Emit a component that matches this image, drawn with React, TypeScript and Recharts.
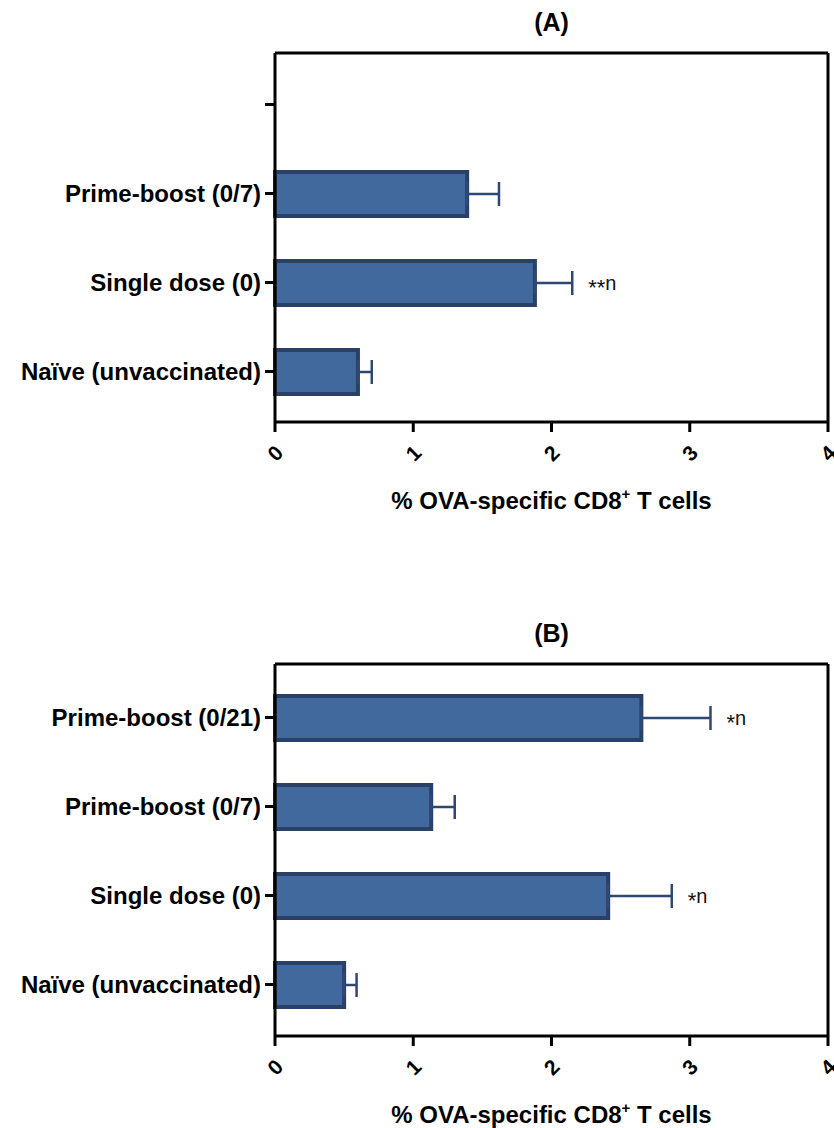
import React from 'react'
import { BarChart, Bar, XAxis, YAxis, ErrorBar, LabelList } from 'recharts'

// panel A
const groupsA = ['', 'Prime-boost (0/7)', 'Single dose (0)', 'Naïve (unvaccinated)']
const meansA = [null, 1.39, 1.88, 0.6]
const semA = [null, 0.23, 0.27, 0.1]
const starsA = ['', '', '**n', '']

// panel B
const groupsB = ['Prime-boost (0/21)', 'Prime-boost (0/7)', 'Single dose (0)', 'Naïve (unvaccinated)']
const meansB = [2.65, 1.13, 2.41, 0.5]
const semB = [0.5, 0.17, 0.46, 0.09]
const starsB = ['*n', '', '*n', '']

const xTicks = [0, 1, 2, 3, 4]

const FONT = '"Liberation Sans", Arial, Helvetica, sans-serif'
const FILL = '#42699E'
const EDGE = '#2A4066'
const WHISKER = '#2E4874'

const buildRows = (groups: string[], means: (number | null)[], sem: (number | null)[]) =>
  groups.map((g, i) => ({
    group: g,
    value: means[i],
    err: sem[i] == null ? null : [0, sem[i]]
  }))

const RotatedTick = ({ x, y, payload }: any) => {
  const cy = y + 19
  return (
    <text
      x={x}
      y={cy}
      textAnchor="middle"
      dominantBaseline="central"
      transform={`rotate(-45 ${x} ${cy})`}
      fontSize={21}
      fontWeight={700}
      fontFamily={FONT}
      fill="#000"
    >
      {payload.value}
    </text>
  )
}

const axisTitle = ({ viewBox }: any) => {
  if (!viewBox) return null
  return (
    <text
      x={viewBox.x + viewBox.width / 2}
      y={viewBox.y + 87}
      textAnchor="middle"
      fontSize={24}
      fontWeight={700}
      fontFamily={FONT}
      fill="#000"
    >
      % OVA-specific CD8
      <tspan fontSize={15} dy={-10}>+</tspan>
      <tspan dy={10}> T cells</tspan>
    </text>
  )
}

const panelTitle = (text: string) => ({ viewBox }: any) => {
  if (!viewBox) return null
  return (
    <text
      x={viewBox.x + viewBox.width / 2}
      y={viewBox.y - 30}
      textAnchor="middle"
      dominantBaseline="central"
      fontSize={25}
      fontWeight={700}
      fontFamily={FONT}
      fill="#000"
    >
      {text}
    </text>
  )
}

const starLabel = (stars: string[], means: (number | null)[], sem: (number | null)[]) => (props: any) => {
  const { x, y, width, height, value } = props
  const i = means.findIndex(m => m != null && m === Number(value))
  if (i < 0) return null
  const s = stars[i]
  if (!s) return null
  const v = means[i] as number
  const e = sem[i] as number
  const end = x + (width * (v + e)) / v
  const ast = s.replace(/[^*]/g, '')
  const rest = s.replace(/\*/g, '')
  return (
    <text
      x={end + 16}
      y={y + height / 2 + 7}
      fontSize={20}
      fontFamily={FONT}
      fill="#111"
    >
      <tspan fontSize={22} dy={5}>{ast}</tspan>
      <tspan dy={-5}>{rest}</tspan>
    </text>
  )
}

interface PanelProps {
  title: string
  groups: string[]
  means: (number | null)[]
  sem: (number | null)[]
  stars: string[]
  height: number
  top: number
  axisHeight: number
  bottom: number
  pad: { top: number; bottom: number }
}

function Panel({ title, groups, means, sem, stars, height, top, axisHeight, bottom, pad }: PanelProps) {
  const rows = buildRows(groups, means, sem)
  return (
    <BarChart
      width={834}
      height={height}
      data={rows}
      layout="vertical"
      margin={{ top, right: 5, bottom, left: 0 }}
      barCategoryGap={0}
    >
      <XAxis
        type="number"
        domain={[0, 4]}
        ticks={xTicks}
        interval={0}
        height={axisHeight}
        axisLine={{ stroke: '#000', strokeWidth: 3 }}
        tickLine={{ stroke: '#000', strokeWidth: 3 }}
        tickSize={10}
        tickMargin={2}
        tick={<RotatedTick />}
        label={axisTitle}
      />
      <XAxis
        xAxisId="top"
        orientation="top"
        type="number"
        domain={[0, 4]}
        height={1}
        tick={false}
        tickLine={false}
        axisLine={{ stroke: '#000', strokeWidth: 3 }}
        label={panelTitle(title)}
      />
      <YAxis
        type="category"
        dataKey="group"
        width={275}
        padding={pad}
        axisLine={{ stroke: '#000', strokeWidth: 3 }}
        tickLine={{ stroke: '#000', strokeWidth: 3 }}
        tickSize={10}
        tickMargin={4}
        interval={0}
        tick={{ fill: '#000', fontSize: 24, fontWeight: 700, fontFamily: FONT }}
      />
      <YAxis
        yAxisId="right"
        orientation="right"
        type="number"
        domain={[0, 1]}
        width={1}
        tick={false}
        tickLine={false}
        axisLine={{ stroke: '#000', strokeWidth: 3 }}
      />
      <Bar dataKey="value" fill={FILL} stroke={EDGE} strokeWidth={4} barSize={44} isAnimationActive={false}>
        <ErrorBar dataKey="err" direction="x" width={12} stroke={WHISKER} strokeWidth={2.5} isAnimationActive={false} />
        <LabelList dataKey="value" content={starLabel(stars, means, sem)} />
      </Bar>
    </BarChart>
  )
}

export default function App() {
  return (
    <div style={{ width: 834, height: 1128, background: '#fff' }}>
      <style>{'body{margin:0}'}</style>
      <Panel
        title="(A)"
        groups={groupsA}
        means={meansA}
        sem={semA}
        stars={starsA}
        height={560}
        top={52}
        axisHeight={100}
        bottom={38}
        pad={{ top: 7, bottom: 6 }}
      />
      <Panel
        title="(B)"
        groups={groupsB}
        means={meansB}
        sem={semB}
        stars={starsB}
        height={568}
        top={103}
        axisHeight={90}
        bottom={2}
        pad={{ top: 9, bottom: 7 }}
      />
    </div>
  )
}
